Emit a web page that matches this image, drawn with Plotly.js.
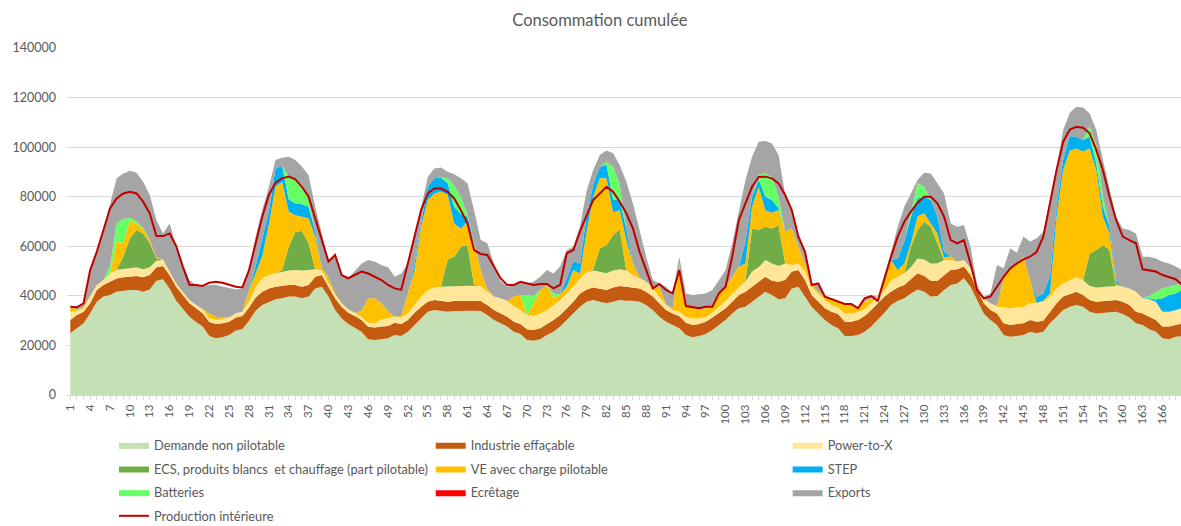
<!DOCTYPE html>
<html><head><meta charset="utf-8">
<script src="https://cdn.plot.ly/plotly-3.0.1.min.js"></script>
<style>html,body{margin:0;padding:0;background:#fff;} #chart{width:1181px;height:526px;}</style>
</head><body><div id="chart"></div>
<script>
const hours = [1,2,3,4,5,6,7,8,9,10,11,12,13,14,15,16,17,18,19,20,21,22,23,24,25,26,27,28,29,30,
31,32,33,34,35,36,37,38,39,40,41,42,43,44,45,46,47,48,49,50,51,52,53,54,55,56,57,58,59,60,
61,62,63,64,65,66,67,68,69,70,71,72,73,74,75,76,77,78,79,80,81,82,83,84,85,86,87,88,89,90,
91,92,93,94,95,96,97,98,99,100,101,102,103,104,105,106,107,108,109,110,111,112,113,114,115,116,117,118,119,120,
121,122,123,124,125,126,127,128,129,130,131,132,133,134,135,136,137,138,139,140,141,142,143,144,145,146,147,148,149,150,
151,152,153,154,155,156,157,158,159,160,161,162,163,164,165,166,167,168,169];

const demande = [24900,26900,28900,33000,37600,39700,40300,41700,42100,42400,
42400,41700,42600,46100,46700,43000,38000,35000,31600,29500,
27600,23800,22900,23300,24200,26000,26600,30000,34000,36300,
37600,38600,39000,39700,39700,39000,39700,43000,43700,39700,
34300,30900,28600,27200,25500,22500,22200,22500,22900,24200,
23800,25500,28200,30900,33600,34300,33900,33600,33900,34000,
34000,34000,33900,32300,30300,28900,27600,25500,24600,22200,
21900,22500,24200,25500,27600,30300,32900,35600,37600,38300,
37600,37000,37600,38300,38000,38000,37600,36300,34300,31600,
29600,28200,26900,24200,23300,23800,24600,26200,28200,30300,
32900,35000,35600,37600,39700,41700,40300,38600,39000,43000,
43700,39700,35600,32900,30300,28200,26900,23800,23800,24200,
25500,27600,30300,33200,36300,38000,39000,41000,42600,41700,
39700,39900,42400,44400,45000,47100,43700,38300,32900,30300,
28200,24200,23500,23800,24200,25500,24900,25500,28900,31600,
34300,35600,36300,35600,33600,32900,33200,33600,33600,32700,
31300,28900,28200,26500,25500,22900,22500,23500,23800];

const industrie = [5400,5400,4700,4000,4800,4700,5400,5300,5400,5300,
5600,5800,5800,5400,5300,5400,5700,5300,5400,5500,
5400,5700,5700,5600,5400,5300,5300,5300,5300,5400,
5400,5100,5100,4700,4700,4700,4700,4700,4700,4000,
4700,4700,4600,4700,4800,5000,5000,5100,4900,5000,
4800,4800,5000,4700,4000,4000,4000,4000,4000,4000,
4000,4000,4000,4000,4000,4000,4000,4100,4000,4300,
4300,4400,4300,4800,4700,4700,4700,5400,5000,5100,
5400,5400,5800,5700,5700,5400,5400,5400,5400,5400,
4700,4700,5000,5000,4900,4800,5000,5100,5000,4700,
4700,5300,6100,6100,6000,6000,5800,7100,7400,6800,
6700,6700,4700,4700,4700,5400,5800,5800,5800,6100,
6400,6700,6700,6500,5400,5400,5400,5700,6500,6300,
6400,6200,6000,6000,5700,4700,4700,4100,4100,4000,
4700,4700,4700,4800,4700,4800,4700,4500,4700,5400,
5400,5100,5400,4700,4700,4700,4700,4400,4700,4900,
5000,4700,4700,5100,4800,4700,5100,4700,5100];

const powerToX = [3200,1600,1400,2700,2000,2000,3300,3500,3200,3400,
3500,3200,3100,2700,2700,1400,1300,1400,1300,1300,
1500,1500,1700,1700,1700,1700,1700,2300,4400,5400,
5400,5400,5700,5800,6000,6500,6000,3000,1800,1600,
1500,1400,1400,1300,1300,1700,1700,2900,3100,2400,
2700,2600,3100,4100,4800,5100,5800,6100,6100,6000,
6100,6100,6100,5400,5400,6100,6400,6300,5700,5800,
5700,6000,5800,6000,6000,6000,6100,6100,6800,6800,
6800,6700,6800,6700,6500,5000,4100,4000,3300,2700,
2000,1400,1700,2400,2700,2300,2000,1900,2400,3000,
3400,3400,4000,6100,5800,6800,7000,6300,6700,2600,
2700,3400,3400,3400,3300,2700,2700,3300,3300,3300,
2700,2700,2700,2700,4400,4300,4700,4800,6000,6700,
7000,7000,6100,4100,3100,2700,2700,1600,2000,2700,
2700,6500,6800,6800,6700,6700,7600,7600,6100,6000,
5300,5700,5800,6100,5700,5800,5800,5700,5700,6100,
6700,8100,6100,7000,7300,6000,6000,6100,6100];

const ecs = [0,0,0,0,0,0,0,0,5100,12100,
15100,14500,9700,900,0,0,0,0,0,0,
0,0,0,0,0,0,0,0,0,0,
0,0,600,9600,15500,16000,10800,0,0,0,
0,0,0,0,0,0,0,0,0,0,
0,0,0,0,0,0,0,11000,11800,15800,
16400,400,0,0,0,0,0,0,0,0,
0,0,0,0,0,0,0,0,0,500,
9400,11400,14300,16100,0,0,0,0,0,0,
0,0,0,0,0,0,0,0,0,0,
0,0,300,17400,15100,13400,14100,16600,0,0,
0,0,0,0,0,0,0,0,0,0,
0,0,0,0,0,0,0,8300,11500,15200,
14800,8100,0,0,0,0,0,0,0,0,
0,0,0,0,0,0,0,0,0,0,
0,0,0,0,13100,15100,16800,14800,0,0,
0,0,0,0,0,0,0,0,0];

const ve = [2000,600,500,0,0,0,0,11400,5400,7300,
2400,1800,1300,400,0,0,0,0,0,0,
0,2000,1200,700,0,0,0,4800,5300,8900,
20600,34900,35600,14200,6600,5700,10100,13200,800,2200,
500,0,0,0,2400,9800,10100,6500,3100,0,
700,8100,14100,28200,36300,37900,38300,26300,13400,7400,
9400,16700,6400,1300,0,0,0,3800,6000,0,
5100,9500,10100,2700,2200,2700,6700,1900,16600,29300,
28200,26900,9100,7800,12300,4700,400,0,700,4000,
200,700,19400,4000,4100,3700,3400,3100,5400,5700,
6700,8100,7100,8800,17400,6600,6300,6000,12800,14800,
6700,3300,1300,700,1400,2000,2600,3800,3800,1400,
3000,2000,0,4000,8400,2700,3900,1400,5500,3400,
1300,4000,1000,1500,0,0,0,0,0,0,
400,11700,16100,18400,20200,9400,0,400,1300,28900,
45800,52200,52000,51800,42400,32300,11500,6700,1000,0,
0,0,0,0,0,0,0,0,0];

const step = [0,0,0,0,0,0,0,0,0,0,
0,0,0,0,0,0,0,0,0,0,
0,0,0,0,0,0,0,0,3000,7000,
5000,7500,6500,5000,4800,5100,4700,2100,0,0,
0,0,0,0,0,0,0,0,0,0,
0,0,2600,1600,5300,6100,5800,4500,6800,5800,
2100,800,0,0,0,0,0,0,0,0,
0,0,0,0,0,3300,3600,4000,6000,5000,
4600,5600,5200,4000,4500,0,0,0,0,0,
0,0,0,0,0,0,0,0,0,0,
0,0,8900,4000,3000,5500,5200,700,0,0,
0,0,0,0,0,0,0,0,0,0,
0,0,0,0,0,4600,9000,10800,7200,6700,
9500,6800,2500,0,0,0,0,0,0,0,
0,0,0,0,0,0,2300,3000,6700,4100,
4200,5900,4700,4700,4700,2600,4000,2700,1400,0,
0,0,0,400,900,5400,6700,6700,7400];

const batteries = [0,0,0,0,0,0,3000,7600,9800,1000,
1000,500,0,0,0,0,0,0,0,0,
0,0,0,0,0,0,0,0,0,0,
0,0,0,9000,10100,8000,3000,0,0,0,
0,0,0,0,0,0,0,0,0,0,
0,0,0,0,0,0,0,2000,8500,7000,
1000,0,0,0,0,0,0,0,0,8000,
3000,0,0,2000,0,0,0,0,0,0,
0,1000,13200,6400,0,0,0,0,0,0,
0,0,0,0,0,0,0,0,0,0,
0,0,0,0,2000,9400,9300,4700,0,0,
0,0,0,0,0,0,0,0,0,0,
0,0,0,0,0,0,0,2000,6100,4000,
0,0,0,0,0,0,0,0,0,0,
0,0,0,0,0,0,0,0,0,0,
0,0,0,0,4300,7400,4000,0,0,0,
0,0,0,1000,2900,4000,3400,3400,2600];

const ecretage = [0,0,0,0,0,0,0,0,0,0,
0,0,0,0,0,0,0,0,0,0,
0,0,0,0,0,0,0,0,0,0,
0,0,0,0,0,0,0,0,0,0,
0,0,0,0,0,0,0,0,0,0,
0,0,0,0,0,0,0,0,0,0,
0,0,0,0,0,0,0,0,0,0,
0,0,0,0,0,0,0,0,0,0,
0,0,0,0,0,0,0,0,0,0,
0,0,0,0,0,0,0,0,0,0,
0,0,0,0,0,0,0,0,0,0,
0,0,0,0,0,0,0,0,0,0,
0,0,0,0,0,0,0,0,0,0,
0,0,0,0,0,0,0,0,0,0,
0,0,0,0,0,0,0,0,0,0,
0,0,0,0,0,0,0,0,0,0,
0,0,0,0,0,0,0,0,0];

const exportsMW = [100,900,1500,10700,13400,20200,25000,17900,18400,19000,
19700,18500,18200,15100,10500,19400,15100,10700,8100,8100,
9200,11400,12900,12400,11700,9600,9400,8000,11900,11600,
10000,3300,3200,8100,7400,7100,9700,10000,14200,7000,
15500,11400,12500,16900,19100,15500,14800,15400,17500,16100,
17000,12100,12200,6000,4000,4000,4000,2600,4600,7400,
12400,12600,12100,18200,13400,7000,5700,4700,5400,4700,
5700,5300,6000,8000,11300,11500,5800,15000,10400,5800,
4800,4600,5500,7800,19000,24200,19100,10100,2700,1300,
7200,6000,2800,5400,5300,6000,6000,6100,5400,6700,
13500,22800,24700,16100,13200,13100,13500,16800,14800,7400,
4700,5400,0,3600,200,700,0,200,200,400,
1800,1300,0,2000,3300,12900,14000,7300,1300,5700,
10700,13400,23300,13200,14100,14100,8700,500,500,4000,
16400,4000,8100,3600,8100,15500,23700,24900,30300,15500,
11900,9400,12100,13100,5100,6100,14800,14800,25500,23500,
23600,23500,16800,15800,13700,10800,9400,7400,5400];

const production = [35600,35400,37000,50400,57800,66600,75300,79300,81300,82000,
81300,78000,73300,64100,64100,65200,60100,51800,44400,44400,
44000,45300,45700,45300,44400,43700,43400,50400,61200,71900,
80700,85700,87400,88100,87000,84000,80000,71300,62500,53800,
56500,48400,47100,48400,49800,49000,47700,46400,44400,43000,
42400,53100,63900,74600,81300,83300,83300,82000,79300,74600,
69200,58500,56900,56500,51800,47100,44400,44400,45700,45000,
44400,44800,44800,43000,44400,57100,58500,66000,72100,78700,
81300,84000,82000,78000,73300,67200,57800,50000,43000,44800,
42400,41000,50400,35900,35400,35000,35600,35600,41000,43700,
55800,70600,77300,84000,88000,88100,87400,85400,80700,74600,
63900,57800,44400,45000,39700,38600,37600,36700,36700,35000,
39000,39900,38000,47100,55800,63900,69900,74000,77600,80000,
80000,77300,72000,62500,61200,62500,53100,42400,39000,39700,
43700,47700,51100,53100,54700,55800,57800,63900,77300,90800,
102200,107100,108200,107800,105600,98900,90800,80000,70600,63900,
62500,61200,50700,50400,49800,48400,47700,46700,44400];

const FONT = 'Lato, "Open Sans", sans-serif';
const TXT = '#595959';

function area(name, y, color, legend, grp) {
  return {type: 'scatter', mode: 'lines', name: name, x: hours, y: y, stackgroup: 'conso',
          line: {width: 0, color: color}, fillcolor: color, legend: legend, legendgroup: grp, hoverinfo: 'skip'};
}

const traces = [
  area('Demande non pilotable', demande, '#c5e0b4', 'legend', 'g1'),
  area('Industrie effaçable', industrie, '#c55a11', 'legend2', 'g2'),
  area('Power-to-X', powerToX, '#ffe699', 'legend3', 'g3'),
  area('ECS, produits blancs  et chauffage (part pilotable)', ecs, '#70ad47', 'legend', 'g4'),
  area('VE avec charge pilotable', ve, '#ffc000', 'legend2', 'g5'),
  area('STEP', step, '#00b0f0', 'legend3', 'g6'),
  area('Batteries', batteries, '#66ff66', 'legend', 'g7'),
  area('Ecrêtage', ecretage, '#ff0000', 'legend2', 'g8'),
  area('Exports', exportsMW, '#a5a5a5', 'legend3', 'g9'),
  {type: 'scatter', mode: 'lines', name: 'Production intérieure', x: hours, y: production,
   line: {color: '#c00000', width: 2}, legend: 'legend', legendgroup: 'g10', hoverinfo: 'skip'}
];

const legendBase = {orientation: 'v', yanchor: 'top', xanchor: 'left', y: -0.101,
  font: {family: FONT, size: 12.8, color: TXT}, bgcolor: 'rgba(0,0,0,0)',
  traceorder: 'grouped', tracegroupgap: 4, itemwidth: 30};

const layout = {
  width: 1181, height: 526,
  margin: {l: 67, r: 0, t: 48, b: 131, autoexpand: false},
  paper_bgcolor: '#ffffff', plot_bgcolor: '#ffffff',
  font: {family: FONT, color: TXT},
  title: {text: 'Consommation cumulée', font: {family: FONT, size: 16.5, color: TXT},
          xref: 'container', x: 0.508, xanchor: 'center', yref: 'container', y: 0.962, yanchor: 'middle'},
  showlegend: true,
  xaxis: {range: [0.5, 168.8], tickmode: 'linear', tick0: 1, dtick: 3, tickangle: -90,
          ticks: 'outside', ticklen: 4, tickcolor: '#d9d9d9',
          minor: {dtick: 1, tick0: 1, ticks: 'outside', ticklen: 4, tickcolor: '#d9d9d9'},
          showline: true, linecolor: '#d9d9d9', showgrid: false, zeroline: false, automargin: false,
          tickfont: {family: FONT, size: 11.5, color: TXT}},
  yaxis: {range: [0, 140000], dtick: 20000, tickformat: 'd', showgrid: true, gridcolor: '#d9d9d9',
          zeroline: false, showline: false, ticklabelstandoff: 10, automargin: false,
          tickfont: {family: FONT, size: 12.5, color: TXT}},
  legend: Object.assign({}, legendBase, {x: 0.0422}),
  legend2: Object.assign({}, legendBase, {x: 0.3265}),
  legend3: Object.assign({}, legendBase, {x: 0.6469})
};

Plotly.newPlot('chart', traces, layout, {displayModeBar: false, staticPlot: true});
</script>
</body></html>
